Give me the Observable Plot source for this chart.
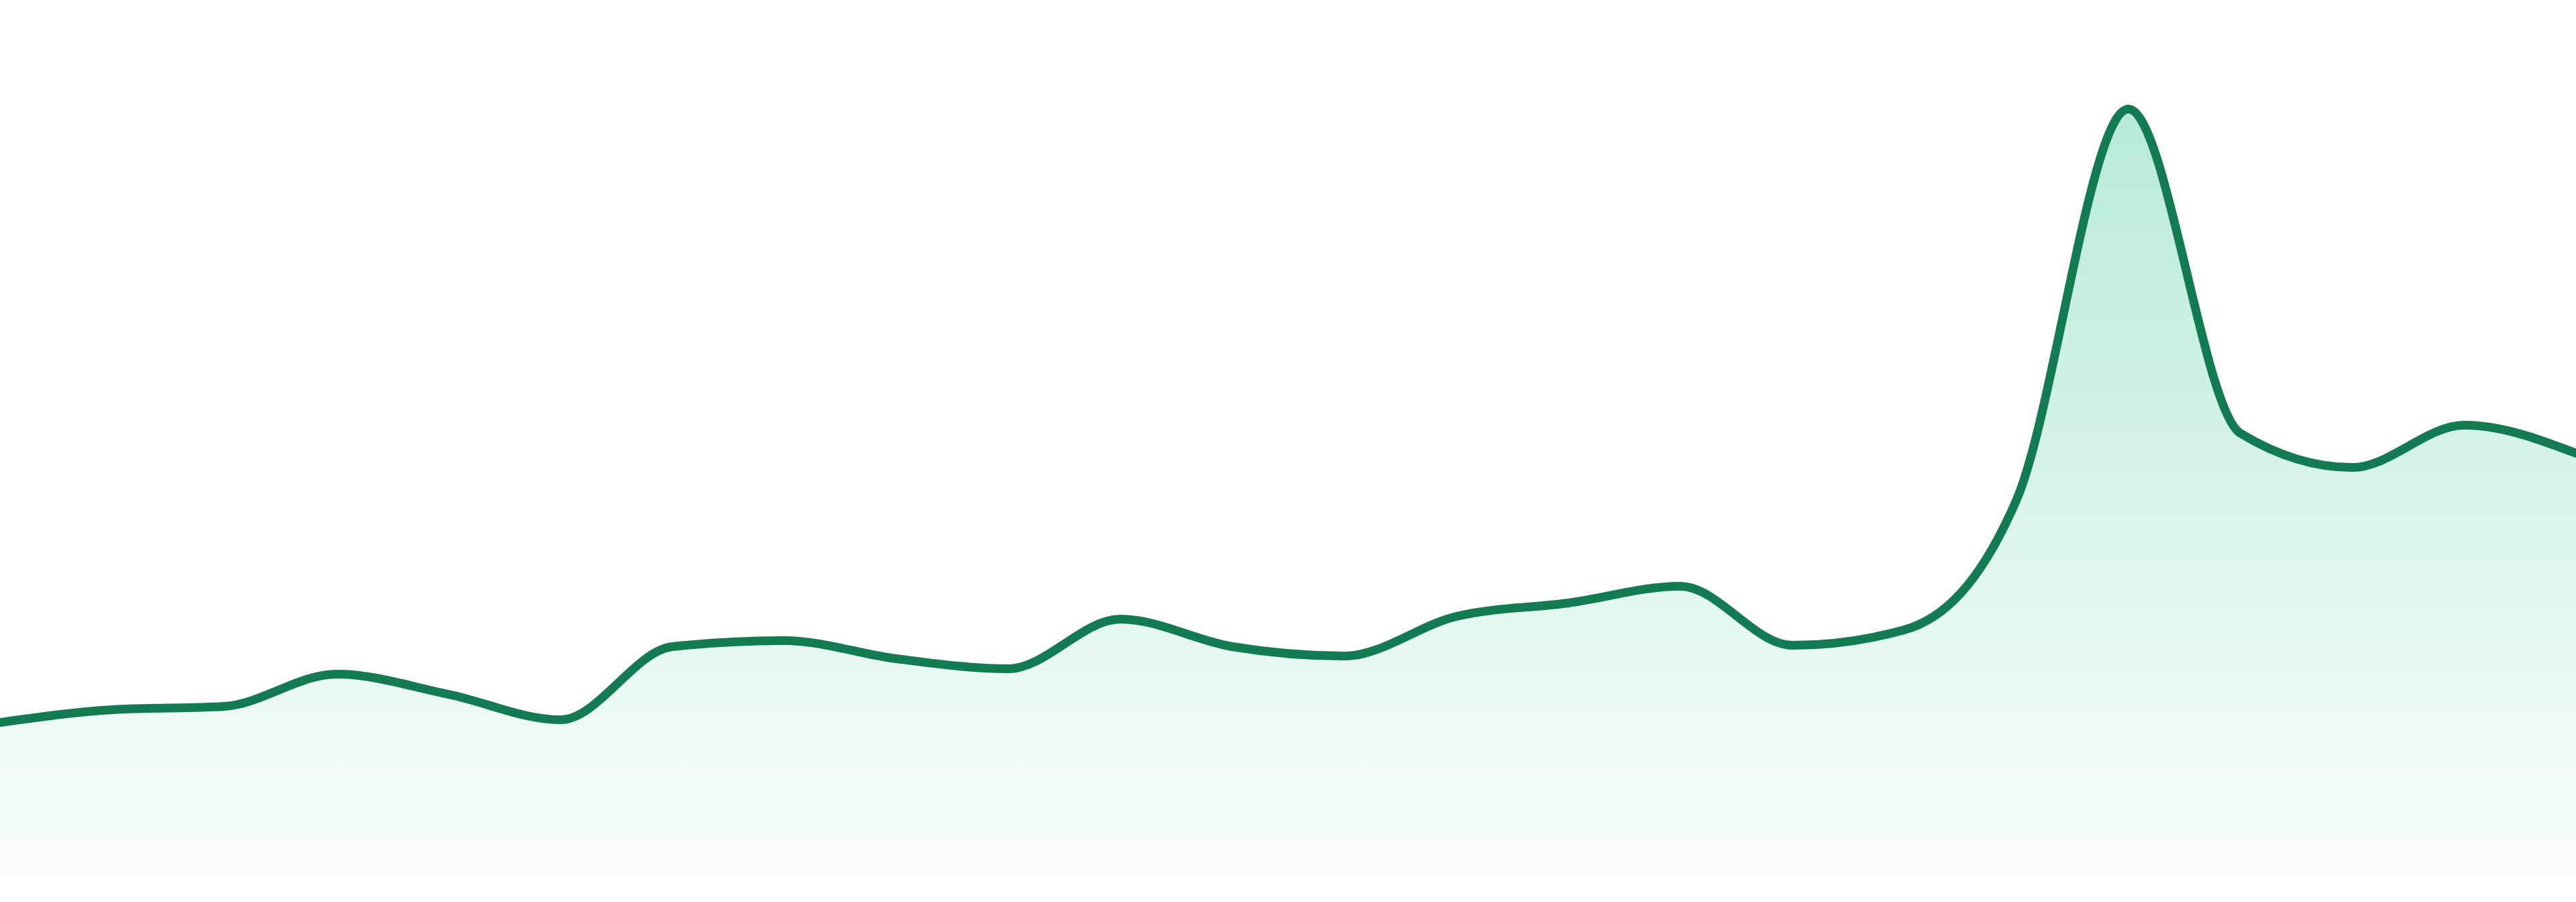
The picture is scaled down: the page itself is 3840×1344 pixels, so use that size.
<!DOCTYPE html>
<html><head><meta charset="utf-8">
<script src="https://cdn.jsdelivr.net/npm/d3@7"></script>
<script src="https://cdn.jsdelivr.net/npm/@observablehq/plot@0.6"></script>
<style>html,body{margin:0;padding:0;background:#fff;overflow:hidden}#chart svg{display:block}</style>
</head><body><div id="chart"></div>
<script>
const periods = [0,1,2,3,4,5,6,7,8,9,10,11,12,13,14,15,16,17,18,19,20,21,22,23];
const values = [22.9,24.8,25.3,30.1,27.1,23.3,34.2,35.1,32.4,30.9,38.3,34.2,32.8,38.7,40.7,43.2,34.4,36.7,56.0,114.3,66.0,60.9,67.2,63.0];
const data = periods.map((p, i) => ({p, v: values[i]}));

const chart = Plot.plot({
  width: 3840, height: 1344,
  marginTop: 5, marginBottom: 39, marginLeft: 0, marginRight: 0,
  x: {domain: [0, 23], axis: null},
  y: {domain: [0, 130], axis: null},
  style: {background: "#ffffff"},
  marks: [
    Plot.areaY(data, {x: "p", y: "v", curve: "monotone-x", fill: "url(#areaGrad)"}),
    Plot.line(data, {x: "p", y: "v", curve: "monotone-x", stroke: "#137b51", strokeWidth: 13, strokeLinejoin: "round", strokeLinecap: "round"})
  ]
});

const ns = "http://www.w3.org/2000/svg";
const defs = document.createElementNS(ns, "defs");
const grad = document.createElementNS(ns, "linearGradient");
grad.setAttribute("id", "areaGrad");
grad.setAttribute("x1", "0"); grad.setAttribute("y1", "0");
grad.setAttribute("x2", "0"); grad.setAttribute("y2", "1");
[["0%", 0.30], ["100%", 0.02]].forEach(([off, op]) => {
  const s = document.createElementNS(ns, "stop");
  s.setAttribute("offset", off);
  s.setAttribute("stop-color", "#10b981");
  s.setAttribute("stop-opacity", op);
  grad.appendChild(s);
});
defs.appendChild(grad);
chart.insertBefore(defs, chart.firstChild);
d3.select(chart).selectAll("g[aria-label='area'] path").attr("fill", "url(#areaGrad)");
document.getElementById("chart").appendChild(chart);
</script>
</body></html>
